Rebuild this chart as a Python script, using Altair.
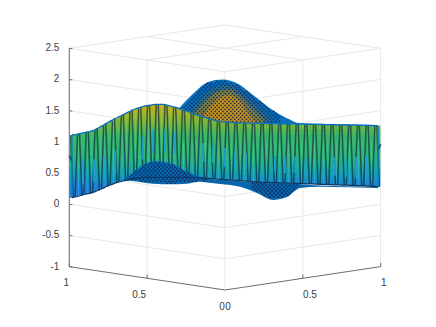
import altair as alt
import numpy as np
import pandas as pd

# --- axis ticks ---
Z_TICKS = [-1, -0.5, 0, 0.5, 1, 1.5, 2, 2.5]
Z_LABELS = ["-1", "-0.5", "0", "0.5", "1", "1.5", "2", "2.5"]

# --- surface (horizontal position s, height on the picture plane) ---
band_top = [1.11,1.12,1.135,1.15,1.165,1.185,1.22,1.26,1.30,1.34,1.375,1.41,1.445,1.48,1.515,1.54,1.56,1.58,1.59,1.60,
            1.60,1.60,1.585,1.565,1.55,1.52,1.50,1.475,1.445,1.42,1.40,1.38,1.36,1.34,1.325,1.32,1.315,1.31,1.305,1.305,
            1.30,1.30,1.298,1.297,1.295,1.294,1.292,1.291,1.29,1.289,1.288,1.287,1.285,1.284,1.282,1.281,1.28,1.278,1.277,1.275,
            1.274,1.272,1.271,1.27,1.268,1.267,1.265,1.264,1.262,1.261,1.26]
band_bottom = [.105,.12,.14,.16,.175,.195,.225,.255,.29,.315,.34,.36,.38,.395,.41,.42,.425,.43,.43,.43,
               .43,.43,.43,.43,.43,.43,.43,.43,.425,.425,.42,.415,.41,.405,.40,.395,.39,.385,.38,.375,
               .37,.365,.36,.355,.352,.35,.347,.345,.342,.34,.337,.335,.332,.33,.327,.325,.322,.32,.317,.315,
               .312,.31,.307,.305,.302,.30,.297,.295,.29,.285,.28]

hump_s    = [-.308,-.276,-.193,-.109,-.013,.083,.18,.289,.398,.482,.674,.983]
hump_top  = [1.50,1.59,1.80,1.96,2.00,1.93,1.75,1.54,1.38,1.30,1.285,1.27]
inner_s   = [-.245,-.2,-.13,-.05,.02,.09,.17,.29]
inner_top = [1.40,1.56,1.76,1.88,1.90,1.82,1.64,1.38]
mid_s     = [-.22,-.14,-.06,.02,.09,.17,.25]
mid_top   = [1.38,1.62,1.79,1.84,1.75,1.56,1.36]
core_s    = [-.16,-.09,-.03,.03,.09,.14,.19]
core_top  = [1.35,1.58,1.71,1.75,1.66,1.50,1.35]

blob_s    = [-.66,-.61,-.527,-.462,-.353,-.244,-.16,-.116,-.03,.096,.205,.308,.398,.482,.61,.983]
blob_top  = [.39,.47,.63,.69,.66,.52,.44,.41,.395,.37,.355,.345,.335,.32,.30,.28]
blob_base = [.39,.375,.35,.33,.32,.33,.36,.35,.325,.28,.18,.07,.115,.26,.28,.26]

lens_s  = [-.912,-.841,-.777,-.706,-.527,-.462,-.385,-.321,-.141,-.077,0,.064,.135,.321,.385,.45,.52,.706,.777,.841,.906]
lens_z0 = [.32,.36,.40,.48,.72,.82,.84,.80,.68,.66,.60,.58,.56,.52,.50,.50,.48,.46,.44,.42,.42]
lens_z1 = [.70,.72,.78,.86,1.10,1.20,1.20,1.14,.98,.94,.90,.86,.82,.78,.76,.76,.74,.76,.76,.76,.78]

ramp_z = [0, .3, .5, .75, 1.1, 1.35, 1.6, 2.0]
ramp_c = ["#2a6fdc", "#1a85d8", "#12a4b0", "#2db67c", "#3cb868", "#88b832", "#c4b020", "#e0a830"]

SX = alt.Scale(domain=[-1.3937, 1.3038], nice=False, zero=False)
SY = alt.Scale(domain=[-1.8397, 3.146], nice=False, zero=False)
def enc(x="s", y="p"):
    return dict(x=alt.X(f"{x}:Q", scale=SX, axis=None), y=alt.Y(f"{y}:Q", scale=SY, axis=None))

def project(a, b, c):
    return b - a, c - .375 + .375 * (a + b)

def seg_table(segs):
    return pd.DataFrame(segs, columns=["s", "p", "s2", "p2"])

def rules(df, **mk):
    e = enc()
    e["x2"] = alt.X2("s2:Q"); e["y2"] = alt.Y2("p2:Q")
    return alt.Chart(df).mark_rule(**mk).encode(**e)

def hexmix(z):
    rgb = [[int(c[i:i+2], 16) for i in (1, 3, 5)] for c in ramp_c]
    vals = [int(np.interp(z, ramp_z, [r[k] for r in rgb])) for k in range(3)]
    return "#%02x%02x%02x" % tuple(vals)

# grid
grid = []
for t in [0, .5, 1]:
    grid.append(project(1, t, 2.5) + project(0, t, 2.5))
    grid.append(project(t, 1, 2.5) + project(t, 0, 2.5))
for z in Z_TICKS[1:-1]:
    grid.append(project(1, 0, z) + project(0, 0, z))
    grid.append(project(0, 0, z) + project(0, 1, z))
for t in [.5, 1]:
    grid.append(project(t, 0, -1) + project(t, 0, 2.5))
    grid.append(project(0, t, -1) + project(0, t, 2.5))
grid.append(project(0, 0, -1) + project(0, 0, 2.5))
grid_layer = rules(seg_table(grid), color="#e8e8e8", strokeWidth=1)

axes = [project(1, 0, -1) + project(0, 0, -1), project(0, 0, -1) + project(0, 1, -1), project(1, 0, -1) + project(1, 0, 2.5)]
for z in Z_TICKS:
    axes.append(project(1, 0, z) + project(.98, 0, z))
for t in [.5, 1]:
    a0 = project(t, 0, -1); axes.append(a0 + (a0[0], a0[1] + .06))
    b0 = project(0, t, -1); axes.append(b0 + (b0[0], b0[1] + .06))
axes_layer = rules(seg_table(axes), color="#6e6e6e", strokeWidth=1)

def labels(rows, **mk):
    df = pd.DataFrame(rows, columns=["s", "p", "t"])
    return alt.Chart(df).mark_text(font="Liberation Sans", fontSize=10, color="#404040", baseline="middle", **mk).encode(
        text="t:N", **enc())

txt = []
zs, zp = zip(*[project(1, 0, z) for z in Z_TICKS])
txt.append(labels(list(zip(zs, zp, Z_LABELS)), align="right", dx=-10, dy=0))
for (a, b, lab, dx, dy) in [(1, 0, "1", -3, 16), (.5, 0, "0.5", -8, 16.5), (0, 0, "0", -3, 17),
                            (0, 0, "0", 3, 17), (0, .5, "0.5", 7, 16.5), (0, 1, "1", 3, 16)]:
    ps, pp = project(a, b, -1)
    txt.append(labels([(ps, pp, lab)], align="center", dx=dx, dy=dy))

stations = np.linspace(-.983, .983, len(band_top))
def area(ss, top, base, color, **mk):
    df = pd.DataFrame({"s": ss, "p": top, "b": base})
    e = enc()
    e["y2"] = alt.Y2("b:Q")
    return alt.Chart(df).mark_area(color=color, interpolate="monotone", **mk).encode(**e)

hump_layers = [
    area(hump_s, hump_top, [1.0] * len(hump_s), "#0a70bc"),
    area(inner_s, inner_top, [1.0] * len(inner_s), "#2f7290"),
    area(mid_s, mid_top, [1.0] * len(mid_s), "#7f8448"),
    area(core_s, core_top, [1.0] * len(core_s), "#c8951e"),
]

def lattice(s0, s1, z0, z1, mask, step_s=.0125, step_z=.032):
    pts = []
    for j, z in enumerate(np.arange(z0, z1, step_z)):
        off = step_s if j % 2 else 0
        for s in np.arange(s0 + off, s1, 2 * step_s):
            if mask(s, z):
                pts.append((s, z))
    return pd.DataFrame(pts, columns=["s", "p"])

hump_mask = lambda s, z: z < np.interp(s, hump_s, hump_top) - .015 and s < .36
hump_pts = alt.Chart(lattice(-.3, .5, 1.2, 2.0, hump_mask)).mark_square(size=2.4, color="#0e1c44", opacity=.85).encode(**enc())

# band strips: each slice overlaps the next so no seams show
strip = []
for i, s in enumerate(stations):
    lo, hi = band_bottom[i], band_top[i]
    edges = np.linspace(lo, hi, 13)
    for k in range(12):
        strip.append((s, edges[k], s, min(edges[k + 1] + .02, hi), hexmix((edges[k] + edges[k + 1]) / 2)))
strip_df = pd.DataFrame(strip, columns=["s", "p", "s2", "p2", "c"])
e = enc(); e["x2"] = alt.X2("s2:Q"); e["y2"] = alt.Y2("p2:Q"); e["color"] = alt.Color("c:N", scale=None)
strip_layer = alt.Chart(strip_df).mark_rule(strokeWidth=4.6).encode(**e)

# dark mesh edges: near-vertical lines that lean alternately
lean = .0075
zig = []
for i in range(len(stations)):
    d = lean if i % 2 == 0 else -lean
    zig.append((stations[i] - d, band_top[i], stations[i] + d, band_bottom[i]))
zig_layer = rules(seg_table(zig), color="#0a2c3e", strokeWidth=1.5, opacity=.68)

lens_df = seg_table(list(zip(lens_s, lens_z0, lens_s, lens_z1)))
lens_layer = rules(lens_df, color="#1f9fd6", strokeWidth=2, opacity=.9)

edge_df = pd.DataFrame({"s": stations, "p": band_top, "q": band_bottom})
top_edge = alt.Chart(edge_df).mark_line(color="#0a70bc", strokeWidth=1.3).encode(**enc())
bottom_edge = alt.Chart(edge_df).mark_line(color="#0d3560", strokeWidth=1.2).encode(**enc("s", "q"))
side = seg_table([(stations[0], band_top[0], stations[0], band_bottom[0]),
                  (stations[-1], band_top[-1], stations[-1], band_bottom[-1])])
side_layer = rules(side, color="#1a7fc8", strokeWidth=1.4)
stubs = seg_table([(-1.0, .78, -.985, .70), (.985, .88, 1.0, .96)])
stub_layer = rules(stubs, color="#134a78", strokeWidth=1.6)

# front lower blob
blob_layer = area(blob_s, blob_top, blob_base, "#0a66ac")
blob_mask = lambda s, z: (np.interp(s, blob_s, blob_base) + .015 < z < np.interp(s, blob_s, blob_top) - .01) and (s < -.12 or .17 < s < .47)
blob_pts = alt.Chart(lattice(-.66, .5, .05, .72, blob_mask)).mark_square(size=2.4, color="#0c1c48", opacity=.8).encode(**enc())

chart = alt.layer(
    grid_layer, axes_layer, *txt, *hump_layers, hump_pts,
    strip_layer, zig_layer, lens_layer, top_edge, side_layer, stub_layer,
    blob_layer, blob_pts, bottom_edge,
).properties(width=420, height=311, padding=0, autosize=alt.AutoSizeParams(type="none")
).configure_view(stroke=None)

chart.save("out.html", embed_options={"renderer": "svg", "actions": False})
